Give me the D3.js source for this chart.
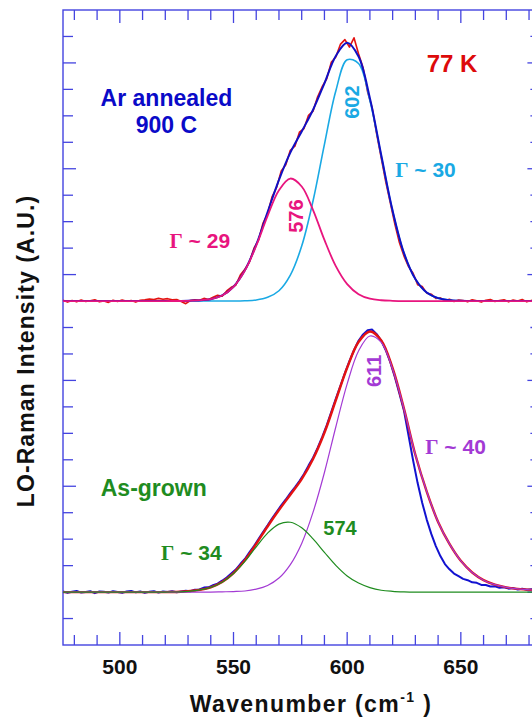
<!DOCTYPE html>
<html>
<head>
<meta charset="utf-8">
<script src="https://d3js.org/d3.v7.min.js"></script>
<style>
  body { margin: 0; background: #fff; }
  text { font-family: "Liberation Sans", Arial, sans-serif; font-weight: bold; }
</style>
</head>
<body>
<div class="chart"></div>
<script>
// wavenumber grid of the fitted curves (cm-1)
var fitWn = [475, 490, 505, 520, 530, 540, 545, 550, 555, 560, 565, 570, 575, 580, 585, 590, 595, 600, 605, 610,
  615, 620, 625, 630, 635, 640, 645, 650, 655, 660, 665, 670, 675, 685];

// Ar annealed 900 C : fitted peaks and their sum (intensity above its baseline)
var peak576 = [0, 0, 0, 0, 0.01, 0.07, 0.21, 0.54, 1.15, 2.09, 3.22, 4.19, 4.63, 4.33, 3.44, 2.31, 1.32, 0.64, 0.26, 0.09,
  0.03, 0.01, 0, 0, 0, 0, 0, 0, 0, 0, 0, 0, 0, 0];
var peak602 = [0, 0, 0, 0, 0, 0, 0, 0, 0.01, 0.04, 0.14, 0.39, 0.98, 2.08, 3.79, 5.92, 7.94, 9.12, 8.98, 7.58,
  5.48, 3.40, 1.81, 0.83, 0.32, 0.11, 0.03, 0.01, 0, 0, 0, 0, 0, 0];
var annealedFit = [0, 0, 0, 0, 0.01, 0.07, 0.21, 0.54, 1.16, 2.13, 3.36, 4.58, 5.61, 6.41, 7.23, 8.23, 9.26, 9.76, 9.24, 7.67,
  5.51, 3.41, 1.81, 0.83, 0.32, 0.11, 0.03, 0.01, 0, 0, 0, 0, 0, 0];

// As-grown : fitted peaks and their sum
var peak574 = [0, 0, 0, 0, 0.03, 0.18, 0.37, 0.70, 1.16, 1.71, 2.23, 2.57, 2.64, 2.43, 2.01, 1.50, 1.01, 0.61, 0.34, 0.17,
  0.07, 0.03, 0.01, 0, 0, 0, 0, 0, 0, 0, 0, 0, 0, 0];
var peak611 = [0, 0, 0, 0, 0, 0, 0.01, 0.02, 0.04, 0.11, 0.25, 0.53, 1.04, 1.84, 3.02, 4.52, 6.24, 7.87, 9.11, 9.68,
  9.44, 8.43, 6.92, 5.19, 3.80, 2.65, 1.82, 1.18, 0.74, 0.45, 0.28, 0.18, 0.12, 0.06];
var grownFit = [0, 0, 0, 0, 0.03, 0.18, 0.38, 0.72, 1.20, 1.82, 2.48, 3.10, 3.68, 4.27, 5.03, 6.02, 7.25, 8.48, 9.45, 9.85,
  9.51, 8.46, 6.93, 5.19, 3.80, 2.65, 1.82, 1.18, 0.74, 0.45, 0.28, 0.18, 0.12, 0.06];

// measured spectra [wavenumber, intensity above baseline]
var annealedData = [[475, 0.03], [477, -0.04], [479, 0.02], [481, -0.03], [483, 0.04], [485, -0.02], [487, 0.01], [489, 0.05],
  [491, -0.03], [493, 0.0], [495, -0.05], [497, 0.03], [499, -0.02], [501, 0.04], [503, -0.01], [505, 0.02], [507, -0.04],
  [509, 0.03], [511, 0.05], [513, 0.08], [515, 0.06], [517, 0.1], [519, 0.07], [521, 0.09], [523, 0.05], [525, 0.06],
  [527, -0.02], [529, -0.1], [531, 0.02], [533, 0.05], [535, 0.03], [537, 0.1], [539, 0.06], [541, 0.14], [543, 0.22],
  [545, 0.18], [547, 0.38], [549, 0.52], [551, 0.6], [553, 0.98], [555, 1.2], [557, 1.47], [559, 2.0], [561, 2.3],
  [563, 2.95], [565, 3.3], [567, 3.95], [569, 4.3], [571, 4.92], [573, 5.15], [575, 5.7], [577, 5.85], [579, 6.38],
  [581, 6.52], [583, 7.02], [585, 7.18], [587, 7.72], [589, 8.1], [591, 8.4], [593, 9.02], [595, 9.22], [597, 9.7],
  [599, 9.88], [601, 9.6], [603, 9.95], [605, 9.35], [607, 8.82], [609, 7.9], [611, 7.3], [613, 6.3], [615, 5.4],
  [617, 4.5], [619, 3.7], [621, 2.9], [623, 2.2], [625, 1.7], [627, 1.3], [629, 1.05], [631, 0.62], [633, 0.55],
  [635, 0.3], [637, 0.26], [639, 0.1], [641, 0.12], [643, 0.02], [645, 0.07], [647, -0.02], [649, 0.04], [651, 0.02],
  [653, -0.03], [655, 0.05], [657, 0.01], [659, -0.04], [661, 0.03], [663, 0.06], [665, -0.02], [667, 0.02], [669, 0.05],
  [671, -0.03], [673, 0.04], [675, 0.0], [677, 0.06], [679, -0.03], [681, 0.02], [683, 0.05], [685, -0.02]];

var grownData = [[475, 0.02], [477, -0.03], [479, 0.01], [481, 0.04], [483, -0.02], [485, 0.0], [487, 0.03], [489, -0.04],
  [491, 0.02], [493, 0.01], [495, -0.02], [497, 0.03], [499, 0.0], [501, -0.03], [503, 0.02], [505, 0.04], [507, -0.01],
  [509, 0.02], [511, -0.03], [513, 0.01], [515, 0.03], [517, -0.02], [519, 0.02], [521, 0.0], [523, 0.03], [525, -0.01],
  [527, 0.02], [529, 0.05], [531, 0.03], [533, 0.09], [535, 0.1], [537, 0.17], [539, 0.18], [541, 0.26], [543, 0.32],
  [545, 0.43], [547, 0.55], [549, 0.7], [551, 0.85], [553, 1.06], [555, 1.25], [557, 1.5], [559, 1.74], [561, 2.0],
  [563, 2.27], [565, 2.52], [567, 2.79], [569, 3.03], [571, 3.28], [573, 3.5], [575, 3.74], [577, 3.96], [579, 4.2],
  [581, 4.46], [583, 4.78], [585, 5.08], [587, 5.45], [589, 5.86], [591, 6.3], [593, 6.8], [595, 7.3], [597, 7.79],
  [599, 8.28], [601, 8.73], [603, 9.14], [605, 9.5], [607, 9.74], [609, 9.9], [611, 9.92], [613, 9.75], [615, 9.5],
  [617, 9.14], [619, 8.68], [621, 8.12], [623, 7.5], [625, 6.85], [627, 5.92], [629, 4.98], [631, 4.12], [633, 3.38],
  [635, 2.74], [637, 2.2], [639, 1.74], [641, 1.36], [643, 1.06], [645, 0.86], [647, 0.7], [649, 0.6], [651, 0.5],
  [653, 0.45], [655, 0.37], [657, 0.35], [659, 0.27], [661, 0.27], [663, 0.21], [665, 0.22], [667, 0.16], [669, 0.18],
  [671, 0.13], [673, 0.15], [675, 0.1], [677, 0.13], [679, 0.09], [681, 0.11], [683, 0.08], [685, 0.1]];

// vertical offsets of the two stacked spectra
var annealedOffset = 13;
var grownOffset = 2;

var xTickLabels = [500, 550, 600, 650];

var svg = d3.select('.chart')
  .append('svg')
  .attr('width', 532)
  .attr('height', 718);

var xScale = d3.scaleLinear().domain([475, 685]).range([63, 540.4]);
var yScale = d3.scaleLinear().domain([0, 24]).range([645, 10]);

var axisColor = '#4444e0';

// frame
svg.append('rect')
  .attr('x', xScale(475)).attr('y', yScale(24))
  .attr('width', xScale(685) - xScale(475))
  .attr('height', yScale(0) - yScale(24))
  .style('fill', 'none')
  .style('stroke', axisColor)
  .style('stroke-width', 1.4);

// x ticks (bottom and top, inward)
var xTicks = d3.range(480, 685, 10);
xTicks.forEach(t => {
  var len = t % 50 == 0 ? 13 : 10;
  svg.append('line')
    .attr('x1', xScale(t)).attr('x2', xScale(t))
    .attr('y1', yScale(0)).attr('y2', yScale(0) - len)
    .style('stroke', axisColor).style('stroke-width', 1.3);
  svg.append('line')
    .attr('x1', xScale(t)).attr('x2', xScale(t))
    .attr('y1', yScale(24)).attr('y2', yScale(24) + len)
    .style('stroke', axisColor).style('stroke-width', 1.3);
});

// y ticks (left and right, inward)
var yTicks = d3.range(1, 24);
yTicks.forEach(t => {
  var len = (t - 2) % 4 == 0 ? 13 : 10;
  svg.append('line')
    .attr('x1', xScale(475)).attr('x2', xScale(475) + len)
    .attr('y1', yScale(t)).attr('y2', yScale(t))
    .style('stroke', axisColor).style('stroke-width', 1.3);
  svg.append('line')
    .attr('x1', xScale(685)).attr('x2', xScale(685) - len)
    .attr('y1', yScale(t)).attr('y2', yScale(t))
    .style('stroke', axisColor).style('stroke-width', 1.3);
});

// tick labels
svg.selectAll('.xlabel')
  .data(xTickLabels)
  .enter()
  .append('text')
  .attr('class', 'xlabel')
  .attr('x', d => xScale(d))
  .attr('y', 674)
  .style('text-anchor', 'middle')
  .style('font-size', '21px')
  .style('fill', '#111')
  .text(d => d);

// axis titles
var xTitle = svg.append('text')
  .attr('x', 311)
  .attr('y', 712)
  .style('text-anchor', 'middle')
  .style('font-size', '23px')
  .style('letter-spacing', '1.4px')
  .style('fill', '#111');
xTitle.append('tspan').text('Wavenumber (cm');
xTitle.append('tspan').attr('dy', -10).style('font-size', '14px').text('-1');
xTitle.append('tspan').attr('dy', 10).text(' )');

svg.append('text')
  .attr('transform', 'translate(34, 351) rotate(-90)')
  .style('text-anchor', 'middle')
  .style('font-size', '23px')
  .style('letter-spacing', '1.1px')
  .style('fill', '#111')
  .text('LO-Raman Intensity (A.U.)');

function drawCurve(points, offset, color, width, curve) {
  var line = d3.line()
    .x(d => xScale(d[0]))
    .y(d => yScale(d[1] + offset))
    .curve(curve || d3.curveLinear);
  svg.append('path')
    .datum(points)
    .attr('d', line)
    .style('fill', 'none')
    .style('stroke', color)
    .style('stroke-width', width)
    .style('stroke-linejoin', 'round');
}

function fitPoints(values) {
  return fitWn.map((w, i) => [w, values[i]]);
}

var smooth = d3.curveCatmullRom.alpha(0.5);

// upper spectrum: Ar annealed
drawCurve(annealedData, annealedOffset, '#e41212', 1.6);
drawCurve(fitPoints(peak602), annealedOffset, '#1aa9e4', 1.6, smooth);
drawCurve(fitPoints(annealedFit), annealedOffset, '#1010c4', 2, smooth);
drawCurve(fitPoints(peak576), annealedOffset, '#e8157e', 1.8, smooth);

// lower spectrum: as-grown
drawCurve(grownData, grownOffset, '#1212d0', 2);
drawCurve(fitPoints(grownFit), grownOffset, '#e41212', 2.4, smooth);
drawCurve(fitPoints(peak611), grownOffset, '#a33ad4', 1.2, smooth);
drawCurve(fitPoints(peak574), grownOffset, '#1f8c1f', 1.2, smooth);

// annotations
function drawLabel(text, color, size, x, y, anchor) {
  return svg.append('text')
    .attr('x', xScale(x))
    .attr('y', yScale(y))
    .style('text-anchor', anchor || 'start')
    .style('font-size', size)
    .style('fill', color)
    .text(text);
}

function drawRotated(text, color, x, y) {
  svg.append('text')
    .attr('transform', `translate(${xScale(x)}, ${yScale(y)}) rotate(-90)`)
    .style('text-anchor', 'middle')
    .style('font-size', '20px')
    .style('fill', color)
    .text(text);
}

function drawGamma(value, color, x, y) {
  var t = svg.append('text')
    .attr('x', xScale(x))
    .attr('y', yScale(y))
    .style('font-size', '21px')
    .style('fill', color);
  t.append('tspan').style('font-family', '"Liberation Serif", "Times New Roman", serif').text('\u0393');
  t.append('tspan').text(' ~ ' + value);
}

drawLabel('77 K', '#dd0a0a', '24px', 635, 21.65);
drawLabel('Ar annealed', '#0a0ac8', '23px', 520.5, 20.37, 'middle');
drawLabel('900 C', '#0a0ac8', '23px', 520.5, 19.35, 'middle');
drawLabel('As-grown', '#1f8c1f', '23px', 491.6, 5.64);
drawLabel('574', '#1f8c1f', '20px', 589.5, 4.16);

drawRotated('602', '#1aa9e4', 605.2, 20.52);
drawRotated('576', '#e8157e', 580.4, 16.21);
drawRotated('611', '#a33ad4', 614.8, 10.36);

drawGamma(30, '#1aa9e4', 621.1, 17.69);
drawGamma(29, '#e8157e', 521.8, 15.0);
drawGamma(40, '#a33ad4', 634.3, 7.22);
drawGamma(34, '#1f8c1f', 518.1, 3.21);
</script>
</body>
</html>
